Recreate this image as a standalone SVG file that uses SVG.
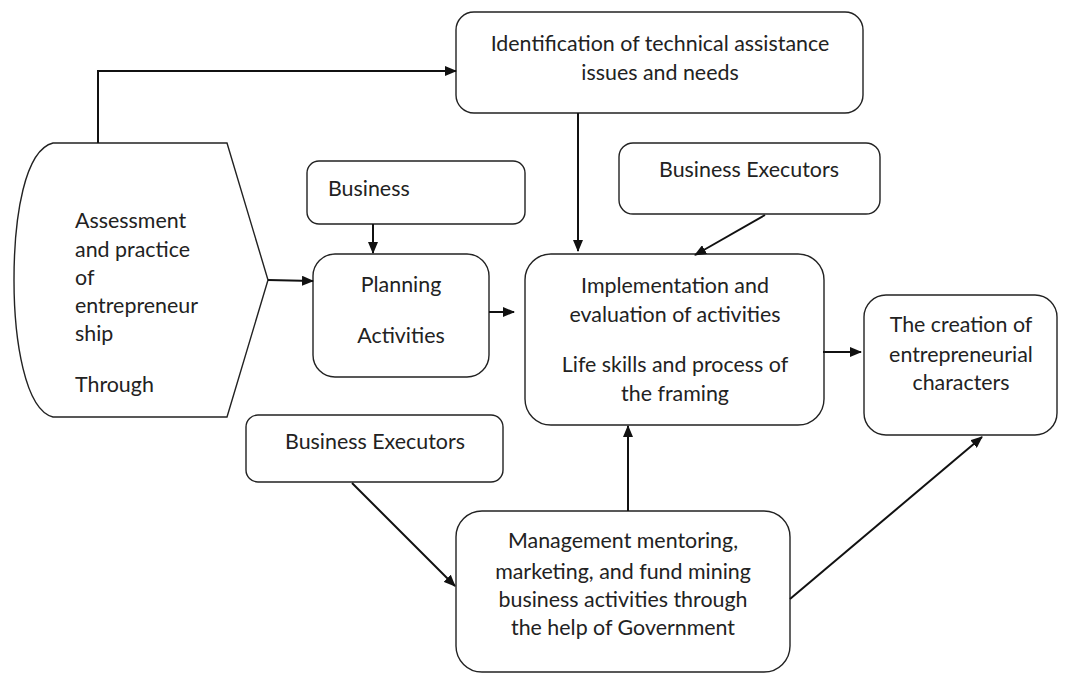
<svg xmlns="http://www.w3.org/2000/svg" width="1070" height="677" viewBox="0 0 1070 677">
<style>
.box{fill:#fff;stroke:#222;stroke-width:1.4}
.t{font-family:Lato,"Liberation Sans",sans-serif;font-size:21.4px;fill:#222}
.c{text-anchor:middle}
.ln{fill:none;stroke:#111;stroke-width:2}
</style>
<defs>
<marker id="ah" viewBox="0 0 12 10" refX="11" refY="5" markerWidth="12" markerHeight="10" markerUnits="userSpaceOnUse" orient="auto">
<path d="M0,0 L12,5 L0,10 Z" fill="#111"/>
</marker>
</defs>
<rect width="1070" height="677" fill="#fff"/>
<g id="n-identification">
<rect class="box" x="456" y="12" width="407" height="101" rx="18"/>
<text class="t c" x="660" y="51">Identification of technical assistance</text>
<text class="t c" x="660" y="80">issues and needs</text>
</g>
<g id="n-assessment">
<path class="box" d="M53,143 L227,143 L268,280 L227,417 L53,417 C25,410 14,340 14,280 C14,215 25,150 53,143 Z"/>
<text class="t" x="75" y="228">Assessment</text>
<text class="t" x="75" y="257">and practice</text>
<text class="t" x="75" y="285">of</text>
<text class="t" x="75" y="313">entrepreneur</text>
<text class="t" x="75" y="341">ship</text>
<text class="t" x="75" y="392">Through</text>
</g>
<g id="n-business">
<rect class="box" x="307" y="161" width="218" height="63" rx="12"/>
<text class="t" x="328" y="196">Business</text>
</g>
<g id="n-planning">
<rect class="box" x="313" y="254" width="176" height="123" rx="22"/>
<text class="t c" x="401" y="292">Planning</text>
<text class="t c" x="401" y="343">Activities</text>
</g>
<g id="n-executors-top">
<rect class="box" x="619" y="143" width="261" height="71" rx="14"/>
<text class="t c" x="749" y="177">Business Executors</text>
</g>
<g id="n-implementation">
<rect class="box" x="525" y="254" width="299" height="171" rx="26"/>
<text class="t c" x="675" y="293">Implementation and</text>
<text class="t c" x="675" y="322">evaluation of activities</text>
<text class="t c" x="675" y="372">Life skills and process of</text>
<text class="t c" x="675" y="401">the framing</text>
</g>
<g id="n-creation">
<rect class="box" x="864" y="295" width="193" height="140" rx="22"/>
<text class="t c" x="961" y="332">The creation of</text>
<text class="t c" x="961" y="362">entrepreneurial</text>
<text class="t c" x="961" y="390">characters</text>
</g>
<g id="n-executors-bottom">
<rect class="box" x="246" y="415" width="257" height="67" rx="12"/>
<text class="t c" x="375" y="449">Business Executors</text>
</g>
<g id="n-management">
<rect class="box" x="456" y="511" width="334" height="161" rx="26"/>
<text class="t c" x="623" y="548">Management mentoring,</text>
<text class="t c" x="623" y="579">marketing, and fund mining</text>
<text class="t c" x="623" y="607">business activities through</text>
<text class="t c" x="623" y="635">the help of Government</text>
</g>
<g id="connectors">
<path class="ln" d="M98,143 L98,71 L456,71" marker-end="url(#ah)"/>
<path class="ln" d="M373,224 L373,253" marker-end="url(#ah)"/>
<path class="ln" d="M268,280 L313,281" marker-end="url(#ah)"/>
<path class="ln" d="M489,312 L514,312" marker-end="url(#ah)"/>
<path class="ln" d="M578,113 L578,251" marker-end="url(#ah)"/>
<path class="ln" d="M765,215 L695,255" marker-end="url(#ah)"/>
<path class="ln" d="M823,352 L861,352" marker-end="url(#ah)"/>
<path class="ln" d="M628,511 L628,426" marker-end="url(#ah)"/>
<path class="ln" d="M790,599 L982,437" marker-end="url(#ah)"/>
<path class="ln" d="M352,483 L455,586" marker-end="url(#ah)"/>
</g>
</svg>
